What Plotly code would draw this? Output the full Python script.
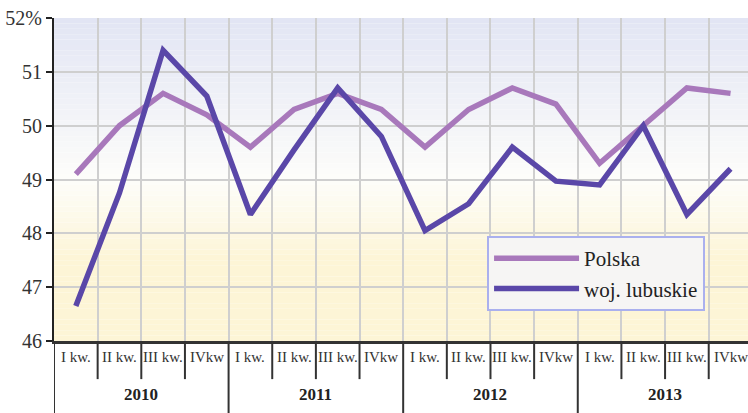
import plotly.graph_objects as go

quarters = ["I kw.", "II kw.", "III kw.", "IVkw"] * 4
years = ["2010", "2011", "2012", "2013"]
polska = [49.1, 50.0, 50.6, 50.2, 49.6, 50.3, 50.6, 50.3,
          49.6, 50.3, 50.7, 50.4, 49.3, 50.0, 50.7, 50.6]
lubuskie = [46.65, 48.75, 51.4, 50.55, 48.35, 49.55, 50.7, 49.8,
            48.05, 48.55, 49.6, 48.97, 48.9, 50.0, 48.35, 49.2]
y_ticks = [46, 47, 48, 49, 50, 51, 52]
y_tick_text = ["46", "47", "48", "49", "50", "51", "52%"]

x = list(range(len(quarters)))
fig = go.Figure()

def mix(c1, c2, t):
    return "rgb(%d,%d,%d)" % tuple(round(a + (b - a) * t) for a, b in zip(c1, c2))

top_c = (226, 229, 244)
mid_c = (253, 253, 250)
bot_c = (253, 245, 214)
n = 60
shapes = []
for i in range(n):
    y0 = 46 + 6 * i / n
    y1 = 46 + 6 * (i + 1) / n
    yc = (y0 + y1) / 2
    if yc >= 49:
        col = mix(mid_c, top_c, (yc - 49) / 3)
    else:
        col = mix(mid_c, bot_c, min(1, (49 - yc) / 1.5))
    shapes.append(dict(type="rect", xref="paper", yref="y", x0=0, x1=1, y0=y0, y1=y1,
                       fillcolor=col, line=dict(width=0), layer="below"))

for i in range(len(quarters)):
    b = i - 0.5
    ylow = -0.25 if i % 4 == 0 else -0.118
    shapes.append(dict(type="line", xref="x", yref="paper", x0=b, x1=b, y0=0, y1=ylow,
                       line=dict(color="#333333", width=2)))

fig.add_trace(go.Scatter(x=x, y=polska, mode="lines", name="Polska",
                         line=dict(color="#a878bb", width=5.5)))
fig.add_trace(go.Scatter(x=x, y=lubuskie, mode="lines", name="woj. lubuskie",
                         line=dict(color="#5a47a8", width=5.5)))

annotations = []
for i, q in enumerate(quarters):
    annotations.append(dict(x=i, y=-0.05, xref="x", yref="paper", text=q, showarrow=False,
                            font=dict(family="Liberation Serif", size=15, color="#333333"),
                            yanchor="middle"))
for j, yr in enumerate(years):
    annotations.append(dict(x=j * 4 + 1.5, y=-0.165, xref="x", yref="paper", text="<b>" + yr + "</b>",
                            showarrow=False, yanchor="middle",
                            font=dict(family="Liberation Serif", size=17, color="#222222")))

fig.update_layout(
    width=748, height=413,
    margin=dict(l=54, r=0, t=18, b=72, autoexpand=False),
    paper_bgcolor="white",
    plot_bgcolor="white",
    shapes=shapes,
    annotations=annotations,
    showlegend=True,
    legend=dict(x=0.624, y=0.325, xanchor="left", yanchor="top",
                bgcolor="#f6f5f4", bordercolor="#aab0ee", borderwidth=2,
                font=dict(family="Liberation Serif", size=21, color="#222222"),
                itemwidth=85, tracegroupgap=0),
    xaxis=dict(range=[-0.5, 15.4], tickvals=[i + 0.5 for i in range(15)], showticklabels=False,
               ticks="", showgrid=True, gridcolor="#cfcfcf", gridwidth=2, zeroline=False,
               showline=True, linecolor="#333333", linewidth=2.5, automargin=False),
    yaxis=dict(range=[46, 52], tickvals=y_ticks, ticktext=y_tick_text, ticks="outside",
               ticklen=6, tickwidth=2, tickcolor="#222222", showline=True, linecolor="#222222",
               linewidth=2, showgrid=True, gridcolor="#cfcfcf", gridwidth=2, zeroline=False,
               automargin=False,
               tickfont=dict(family="Liberation Serif", size=20, color="#333333")),
)

fig.write_html("out.html", config={"displayModeBar": False},
               post_script="document.body.style.margin='0';")
